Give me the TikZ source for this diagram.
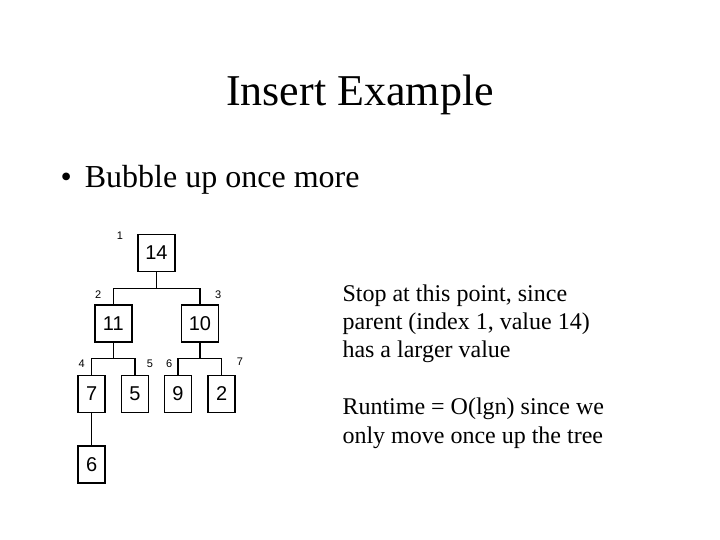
\documentclass[tikz,border=0pt]{standalone}
\usepackage{fontspec}
\setmainfont{Liberation Serif}
\newfontfamily\arialf{Liberation Sans}
\begin{document}
\begin{tikzpicture}[x=1pt,y=-1pt,
  keybox/.style={draw=black,line width=1.5pt,minimum width=27pt,minimum height=37pt,inner sep=0pt,font=\arialf\fontsize{20}{20}\selectfont},
  bigbox/.style={keybox,minimum width=37pt},
  idx/.style={font=\arialf\fontsize{11}{11}\selectfont,inner sep=0pt},
  edge/.style={line width=1.1pt},
  body/.style={anchor=base west,inner sep=0pt,font=\fontsize{24}{29}\selectfont}]
\useasboundingbox (0,0) rectangle (720,540);
% title and bullet
\node[anchor=base,inner sep=0pt,font=\fontsize{44}{44}\selectfont] (title) at (360,106) {Insert Example};
\node[anchor=base west,inner sep=0pt,font=\fontsize{32}{32}\selectfont] (bul) at (60.5,187.3) {\textbullet\hspace{13pt}Bubble up once more};
% tree boxes
\node[bigbox] (n1) at (156.5,253) {14};
\node[bigbox] (n2) at (113.3,323.3) {11};
\node[bigbox] (n3) at (200,323.3) {10};
\node[keybox] (n4) at (91.7,394) {7};
\node[keybox] (n5) at (135,394) {5};
\node[keybox] (n6) at (178,394) {9};
\node[keybox] (n7) at (221.7,394) {2};
\node[keybox] (n8) at (91.7,464.7) {6};
% index labels
\node[idx] (i1) at (120,236) {1};
\node[idx] (i2) at (98.3,295) {2};
\node[idx] (i3) at (218.3,295) {3};
\node[idx] (i4) at (81.7,364) {4};
\node[idx] (i5) at (150,364) {5};
\node[idx] (i6) at (169.3,364) {6};
\node[idx] (i7) at (240,362) {7};
% connectors
\coordinate (j1) at (156.5,288.3);
\coordinate (j2) at (113.3,358.3);
\coordinate (j3) at (200,358.3);
\draw[edge] (n1.south) -- (j1);
\draw[edge] (n2.north) |- (j1) -| (n3.north);
\draw[edge] (n2.south) -- (j2);
\draw[edge] (n4.north) |- (j2) -| (n5.north);
\draw[edge] (n3.south) -- (j3);
\draw[edge] (n6.north) |- (j3) -| (n7.north);
\draw[edge] (n4.south) -- (n8.north);
% side text
\node[body] (t1) at (342.3,301) {Stop at this point, since};
\node[body] (t2) at (342.3,329.4) {parent (index 1, value 14)};
\node[body] (t3) at (342.3,357.8) {has a larger value};
\node[body] (t4) at (342.3,414.6) {Runtime = O(lgn) since we};
\node[body] (t5) at (342.3,443) {only move once up the tree};
\end{tikzpicture}
\end{document}
